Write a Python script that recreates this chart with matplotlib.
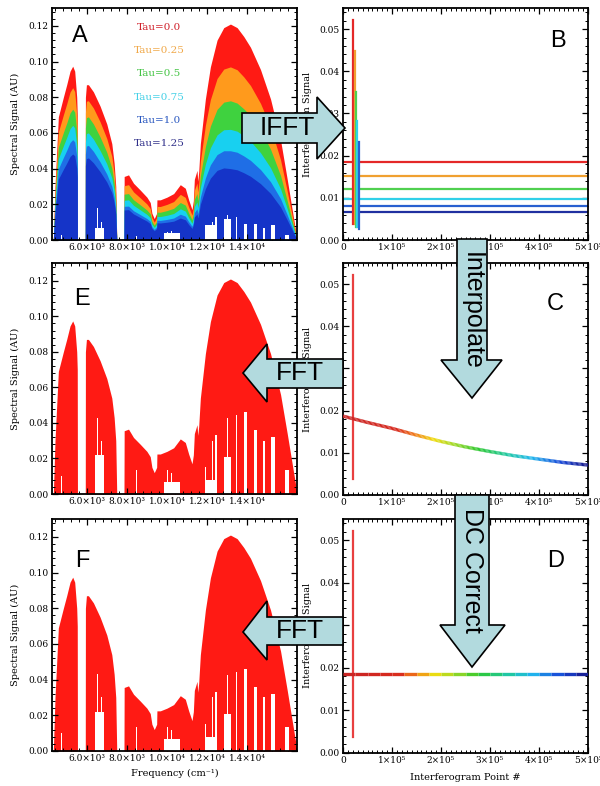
import numpy as np
import matplotlib
matplotlib.use("Agg")
import matplotlib.pyplot as plt
from matplotlib.collections import LineCollection
from matplotlib.colors import LinearSegmentedColormap
from matplotlib.patches import Polygon
from matplotlib.ticker import MultipleLocator, FixedLocator

plt.rcParams['font.family'] = ['DejaVu Serif']

freq = [4317, 4400, 4567, 4817, 4983, 5150, 5283, 5383, 5483, 5510, 5520,
        5910, 5917, 5967, 6067, 6317, 6650, 6983, 7233, 7350, 7430, 7480,
        7840, 7850, 8067, 8317, 8650, 8983, 9150, 9233, 9350, 9470, 9483,
        9650, 9983, 10317, 10650, 10900, 11067, 11233, 11300, 11350, 11483,
        11520, 11567, 11650, 11900, 12150, 12483, 12817, 13150, 13483, 13817,
        14150, 14650, 15150, 15650, 15983, 16317, 16480]
signal = [0.0, 0.030, 0.069, 0.080, 0.087, 0.0946, 0.0974, 0.0946, 0.080, 0.070, 0.0,
          0.0, 0.080, 0.087, 0.087, 0.083, 0.075, 0.065, 0.054, 0.043, 0.030, 0.0,
          0.0, 0.0356, 0.0365, 0.0318, 0.028, 0.024, 0.021, 0.015, 0.012, 0.015, 0.0225,
          0.0225, 0.024, 0.026, 0.031, 0.029, 0.0225, 0.017, 0.022, 0.034, 0.039,
          0.033, 0.038, 0.054, 0.079, 0.097, 0.112, 0.119, 0.121, 0.119, 0.114,
          0.108, 0.0955, 0.079, 0.056, 0.034, 0.011, 0.0]

# layer tops for each Tau at a few band peaks (panel A)
tau_labels = ["Tau=0.0", "Tau=0.25", "Tau=0.5", "Tau=0.75", "Tau=1.0", "Tau=1.25"]
band_freq = [5283, 6067, 8067, 13150]
layer_peaks = [
    [0.097, 0.087, 0.0365, 0.121],
    [0.085, 0.078, 0.031, 0.097],
    [0.073, 0.069, 0.026, 0.078],
    [0.064, 0.060, 0.0225, 0.062],
    [0.056, 0.053, 0.019, 0.050],
    [0.048, 0.046, 0.017, 0.040],
]

# absorption gaps (white slits)
slit_freq = [4733, 6533, 6633, 6733, 8450, 10017, 10233, 10233, 12167, 11917,
             12267, 12433, 13017, 12983, 13433, 13900, 14400, 14817, 15283, 15983]
slit_width = [60, 50, 450, 50, 50, 50, 760, 50, 560, 50,
              50, 80, 360, 50, 60, 160, 120, 70, 170, 220]
slit_top_E = [0.010, 0.043, 0.022, 0.030, 0.0135, 0.0135, 0.007, 0.0116, 0.008, 0.015,
              0.030, 0.033, 0.021, 0.0425, 0.0445, 0.046, 0.036, 0.030, 0.032, 0.0135]
slit_top_A = [0.003, 0.018, 0.0066, 0.010, 0.002, 0.0047, 0.0037, 0.005, 0.0084, 0.006,
              0.010, 0.013, 0.012, 0.014, 0.013, 0.009, 0.009, 0.0066, 0.0084, 0.003]

freq_ticks = [6000, 8000, 10000, 12000, 14000]
freq_ticklabels = ["6.0×10³", "8.0×10³", "1.0×10⁴", "1.2×10⁴", "1.4×10⁴"]

# --- interferograms (panels B, C, D)
spike_x = [21000, 24500, 27200, 29300, 32700]
spike_top = [0.0521, 0.0449, 0.035, 0.0283, 0.0232]
spike_bot = [0.0039, 0.0038, 0.0032, 0.0030, 0.0025]
dc_levels = [0.0184, 0.0151, 0.0121, 0.0097, 0.0080, 0.0067]

interp_x = [0, 50000, 100000, 150000, 200000, 250000, 300000, 350000, 400000, 450000, 500000]
interp_y = [0.0187, 0.0172, 0.0158, 0.0142, 0.0127, 0.0114, 0.0103, 0.0093, 0.0085, 0.0077, 0.0071]
dc_corrected = 0.0186
center_x = 21000
center_top, center_bot = 0.0522, 0.0037

pt_ticks = [0, 100000, 200000, 300000, 400000, 500000]
pt_ticklabels = ["0", "1×10⁵", "2×10⁵", "3×10⁵", "4×10⁵", "5×10⁵"]

fill_colors = ["#ff1a14", "#ff9a1c", "#3fd23f", "#18d0f0", "#1f6ee6", "#1534c8"]
text_colors = ["#d0202a", "#f0a848", "#44c444", "#44d0e6", "#2a58c0", "#30308a"]
line_colors = ["#e42828", "#f0a030", "#50d050", "#30d0e8", "#2860d0", "#2030a0"]
rainbow = LinearSegmentedColormap.from_list("rb", [
    (0.0, "#c82424"), (0.22, "#d82a1e"), (0.29, "#f07818"), (0.37, "#f0dc10"),
    (0.46, "#9ad828"), (0.55, "#2ec82e"), (0.67, "#20c8a0"), (0.77, "#20b8ee"),
    (0.89, "#1848d8"), (1.0, "#181888")])

W, H = 600, 786
fig = plt.figure(figsize=(6.0, 7.86), dpi=100)


def add_panel(x0, y0, x1, y1):
    return fig.add_axes([x0 / W, 1 - y1 / H, (x1 - x0) / W, (y1 - y0) / H])


def style(ax, xminor, ymajor, yminor):
    ax.xaxis.set_minor_locator(MultipleLocator(xminor))
    ax.yaxis.set_major_locator(MultipleLocator(ymajor))
    ax.yaxis.set_minor_locator(MultipleLocator(yminor))
    ax.tick_params(which='both', direction='in', top=True, right=True,
                   labelsize=6.5, pad=2.5)
    ax.tick_params(which='major', length=4, width=0.9)
    ax.tick_params(which='minor', length=2, width=0.7)
    ax.yaxis.set_major_formatter(plt.FormatStrFormatter('%.2f'))
    for sp in ax.spines.values():
        sp.set_linewidth(1.3)


def spectrum_axes(ax):
    ax.set_xlim(4250, 16470)
    ax.set_ylim(0, 0.13)
    ax.xaxis.set_major_locator(FixedLocator(freq_ticks))
    ax.set_xticklabels(freq_ticklabels)
    style(ax, 400, 0.02, 0.004)


def interf_axes(ax):
    ax.set_xlim(0, 500000)
    ax.set_ylim(0, 0.055)
    ax.xaxis.set_major_locator(FixedLocator(pt_ticks))
    ax.set_xticklabels(pt_ticklabels)
    style(ax, 10000, 0.01, 0.002)


def gradient_line(ax, xs, ys):
    # colour each piece of the polyline by its position along x
    segs, cols = [], []
    for i in range(len(xs) - 1):
        for k in range(20):
            a, b = k / 20, (k + 1) / 20
            xa = xs[i] + (xs[i + 1] - xs[i]) * a
            xb = xs[i] + (xs[i + 1] - xs[i]) * b
            ya = ys[i] + (ys[i + 1] - ys[i]) * a
            yb = ys[i] + (ys[i + 1] - ys[i]) * b
            segs.append([(xa, ya), (xb, yb)])
            cols.append(rainbow((xa + xb) / 2 / 500000))
    ax.add_collection(LineCollection(segs, colors=cols, linewidths=2.4, zorder=3))


f = np.array(freq)
s = np.array(signal)

# panel A
axA = add_panel(52, 8, 297, 240)
for i, peaks in enumerate(layer_peaks):
    ratio = np.interp(f, band_freq, np.array(peaks) / np.array(layer_peaks[0]))
    axA.fill_between(f, 0, s * ratio, color=fill_colors[i], lw=0)
axA.bar(slit_freq, slit_top_A, width=slit_width, color="white", lw=0, zorder=2)
for i, lab in enumerate(tau_labels):
    axA.text(0.437, 0.918 - i * 0.1008, lab, transform=axA.transAxes, ha='center',
             va='center', fontsize=7.5, color=text_colors[i])
spectrum_axes(axA)

# panels E and F
for box in [(52, 263, 297, 494), (52, 519, 297, 751)]:
    ax = add_panel(*box)
    ax.fill_between(f, 0, s, color=fill_colors[0], lw=0)
    ax.bar(slit_freq, slit_top_E, width=slit_width, color="white", lw=0, zorder=2)
    spectrum_axes(ax)

# panel B
axB = add_panel(343, 8, 588, 240)
for i, lvl in enumerate(dc_levels):
    axB.plot([0, 500000], [lvl, lvl], color=line_colors[i], lw=1.6)
for i in range(len(spike_x)):
    axB.plot([spike_x[i], spike_x[i]], [spike_bot[i], spike_top[i]],
             color=line_colors[i], lw=1.6)
interf_axes(axB)

# panel C
axC = add_panel(343, 263, 588, 495)
axC.plot([center_x, center_x], [center_bot, center_top], color="#e84040", lw=1.6)
gradient_line(axC, interp_x, interp_y)
interf_axes(axC)

# panel D
axD = add_panel(343, 519, 588, 753)
axD.plot([center_x, center_x], [center_bot, center_top], color="#e84040", lw=1.6)
gradient_line(axD, [0, 500000], [dc_corrected, dc_corrected])
interf_axes(axD)

# axis labels
for yc in [124, 379, 635]:
    fig.text(15 / W, 1 - yc / H, "Spectral Signal (AU)", rotation=90, ha='center',
             va='center', fontsize=7)
    fig.text(308 / W, 1 - yc / H, "Interferogram Signal", rotation=90, ha='center',
             va='center', fontsize=7)
fig.text(175 / W, 1 - 773 / H, "Frequency (cm⁻¹)", ha='center', va='center', fontsize=7)
fig.text(465 / W, 1 - 777 / H, "Interferogram Point #", ha='center', va='center', fontsize=7)

# arrows and panel letters on an overlay in pixel coordinates
ov = fig.add_axes([0, 0, 1, 1], zorder=10)
ov.set_xlim(0, W)
ov.set_ylim(H, 0)
ov.axis('off')
ov.patch.set_alpha(0)

sans = ['Liberation Sans', 'DejaVu Sans']
arrows = [
    ([(242, 113), (317, 113), (317, 97), (345, 128), (317, 159), (317, 143), (242, 143)],
     "IFFT", (287, 128), 0, 19),
    ([(457, 239), (487, 239), (487, 360), (502, 360), (472, 398), (441, 360), (457, 360)],
     "Interpolate", (472, 311), -90, 18),
    ([(455, 495), (489, 495), (489, 625), (505, 625), (472, 667), (440, 625), (455, 625)],
     "DC Correct", (472, 570), -90, 18),
    ([(343, 359), (267, 359), (267, 344), (243, 373), (267, 402), (267, 388), (343, 388)],
     "FFT", (300, 373), 0, 19),
    ([(343, 617), (267, 617), (267, 601), (243, 632), (267, 660), (267, 645), (343, 645)],
     "FFT", (300, 631), 0, 19),
]
for pts, label, (tx, ty), rot, fs in arrows:
    poly = Polygon(pts, closed=True, facecolor="#b2dade", edgecolor="black", lw=1.2)
    ov.add_patch(poly)
    t = ov.text(tx, ty, label, ha='center', va='center', rotation=rot,
                fontsize=fs, family=sans, color="black")
    t.set_clip_path(poly)

letters = [("A", 72, 42), ("B", 550, 47), ("C", 547, 310), ("D", 547, 567),
           ("E", 74, 305), ("F", 75, 567)]
for lab, lx, ly in letters:
    ov.text(lx, ly, lab, ha='left', va='baseline', fontsize=17, family=sans)

fig.savefig("out.png", dpi=100)
